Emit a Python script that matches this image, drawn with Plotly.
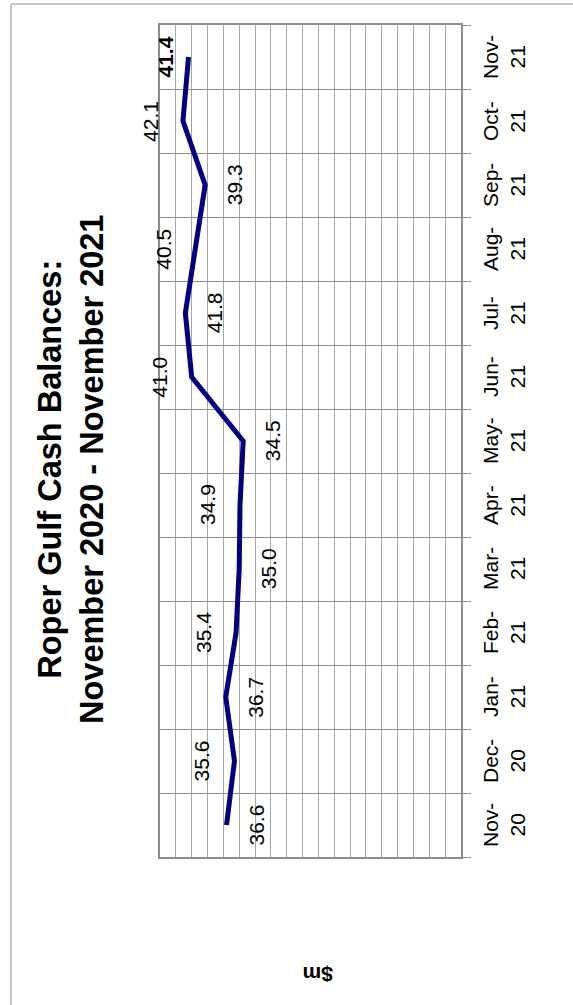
import plotly.graph_objects as go

# ---- data ----
months = ["Nov-20", "Dec-20", "Jan-21", "Feb-21", "Mar-21", "Apr-21", "May-21",
          "Jun-21", "Jul-21", "Aug-21", "Sep-21", "Oct-21", "Nov-21"]
month_labels = ["Nov-<br>20", "Dec-<br>20", "Jan-<br>21", "Feb-<br>21", "Mar-<br>21",
                "Apr-<br>21", "May-<br>21", "Jun-<br>21", "Jul-<br>21", "Aug-<br>21",
                "Sep-<br>21", "Oct-<br>21", "Nov-<br>21"]
balances = [36.6, 35.6, 36.7, 35.4, 35.0, 34.9, 34.5, 41.0, 41.8, 40.5, 39.3, 42.1, 41.4]
# +1 = label below the point in the original (right here), -1 = above (left here)
label_side = [1, -1, 1, -1, 1, -1, 1, -1, 1, -1, 1, -1, -1]
value_min, value_max, value_step = 7, 45, 2
title_text = "Roper Gulf Cash Balances:<br>November 2020 - November 2021"
unit_text = "$m"

FONT = "Liberation Sans, Arial, sans-serif"
W, H = 573, 1005
L, R, T, B = 160, 112, 25, 148
pw, ph = W - L - R, H - T - B


def px_to_paper_x(px):
    return (px - L) / pw


def px_to_paper_y(py):
    return (H - B - py) / ph


fig = go.Figure()
fig.add_trace(go.Scatter(
    x=balances, y=months, mode="lines",
    line=dict(color="#000080", width=5),
    hoverinfo="skip", showlegend=False,
))

annotations = []
for i, (m, v, s) in enumerate(zip(months, balances, label_side)):
    last = i == len(months) - 1
    annotations.append(dict(
        x=v, y=m, xref="x", yref="y", text=(f"<b>{v:.1f}</b>" if last else f"{v:.1f}"),
        showarrow=False, textangle=-90, xanchor="center", yanchor="middle",
        xshift=29 if s > 0 else (-24 if last else -33),
        font=dict(family=FONT, size=21, color="#000000"),
    ))

for m, lab in zip(months, month_labels):
    annotations.append(dict(
        x=px_to_paper_x(504), y=m, xref="paper", yref="y", text=lab,
        showarrow=False, textangle=-90, xanchor="center", yanchor="middle",
        font=dict(family=FONT, size=21, color="#000000"),
    ))

annotations.append(dict(
    x=px_to_paper_x(71), y=px_to_paper_y(470), xref="paper", yref="paper",
    text=f"<b>{title_text}</b>", showarrow=False, textangle=-90,
    xanchor="center", yanchor="middle",
    font=dict(family=FONT, size=32.5, color="#000000"),
))
annotations.append(dict(
    x=px_to_paper_x(318), y=px_to_paper_y(975), xref="paper", yref="paper",
    text=f"<b>{unit_text}</b>", showarrow=False, textangle=180,
    xanchor="center", yanchor="middle",
    font=dict(family=FONT, size=21, color="#000000"),
))

shapes = [
    dict(type="line", xref="paper", yref="paper",
         x0=px_to_paper_x(11), x1=px_to_paper_x(11),
         y0=px_to_paper_y(4), y1=px_to_paper_y(H + 2),
         line=dict(color="#b4b4b4", width=1.5)),
    dict(type="line", xref="paper", yref="paper",
         x0=px_to_paper_x(11), x1=px_to_paper_x(W + 2),
         y0=px_to_paper_y(4), y1=px_to_paper_y(4),
         line=dict(color="#b4b4b4", width=1.5)),
]

fig.update_layout(
    width=W, height=H,
    margin=dict(l=L, r=R, t=T, b=B, pad=0),
    paper_bgcolor="white", plot_bgcolor="white",
    showlegend=False,
    annotations=annotations, shapes=shapes,
    xaxis=dict(
        range=[value_max, value_min], tick0=value_min, dtick=value_step,
        showgrid=True, gridcolor="#a6a6a6", gridwidth=1,
        showticklabels=False, ticks="", zeroline=False,
        showline=True, linecolor="#8c8c8c", linewidth=1.5, mirror=True,
        fixedrange=True,
    ),
    yaxis=dict(
        type="category", categoryorder="array", categoryarray=months,
        range=[-0.5, len(months) - 0.5], tickson="boundaries",
        showgrid=True, gridcolor="#8c8c8c", gridwidth=1.2,
        side="right", ticks="outside", ticklen=8, tickcolor="#8c8c8c", tickwidth=1.2,
        showticklabels=False, zeroline=False,
        showline=True, linecolor="#8c8c8c", linewidth=1.5, mirror=True,
        fixedrange=True,
    ),
)

fig.write_html("out.html")
